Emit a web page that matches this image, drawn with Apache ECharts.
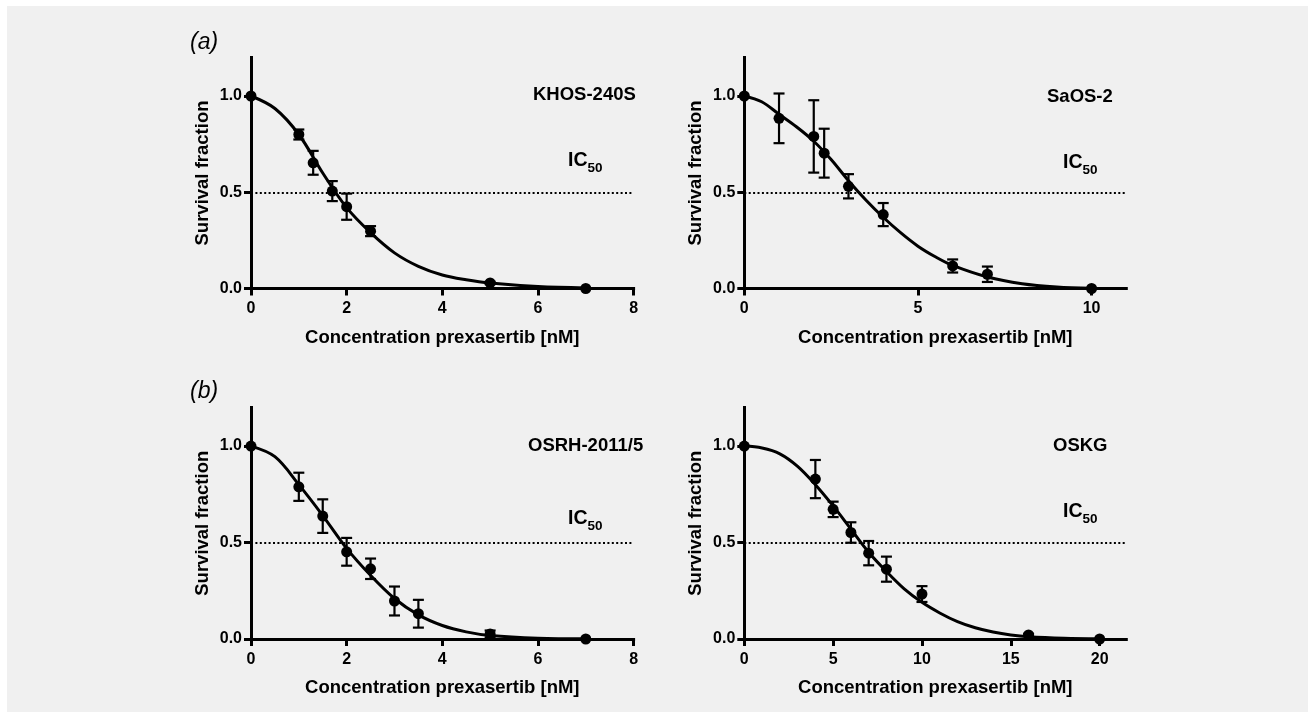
<!DOCTYPE html>
<html><head><meta charset="utf-8">
<script src="https://cdn.jsdelivr.net/npm/echarts@6/dist/echarts.min.js"></script>
<style>
html,body{margin:0;padding:0;background:#fff;}
#bg{position:absolute;left:7px;top:6px;width:1301px;height:706px;background:#f0f0f0;}
#c{position:absolute;left:0;top:0;width:1308px;height:712px;}
</style></head><body><div id="bg"></div><div id="c"></div>
<script>
// ---------- data ----------
const yTicks = [0, 0.5, 1.0];
const ic50Level = 0.5;
const xTitle = 'Concentration prexasertib [nM]';
const yTitle = 'Survival fraction';

// (a) KHOS-240S
const khosX   = [0, 1, 1.3, 1.7, 2, 2.5, 5, 7];
const khosY   = [1.0, 0.80, 0.653, 0.506, 0.425, 0.298, 0.029, 0.0];
const khosErr = [0, 0.026, 0.062, 0.052, 0.068, 0.026, 0.006, 0];
const khosFitX = [0, 0.5, 1, 1.5, 2, 2.5, 3, 3.5, 4, 4.5, 5, 6, 7];
const khosFitY = [1.0, 0.935, 0.80, 0.60, 0.42, 0.29, 0.185, 0.115, 0.07, 0.045, 0.028, 0.01, 0.003];
const khosTicks = [0, 2, 4, 6, 8];

// (a) SaOS-2
const saosX   = [0, 1, 2, 2.3, 3, 4, 6, 7, 10];
const saosY   = [1.0, 0.884, 0.790, 0.703, 0.531, 0.384, 0.117, 0.074, 0.0];
const saosErr = [0, 0.129, 0.188, 0.127, 0.063, 0.06, 0.034, 0.04, 0];
const saosFitX = [0, 0.5, 1, 1.5, 2, 2.5, 3, 3.5, 4, 4.5, 5, 5.5, 6, 7, 8, 9, 10];
const saosFitY = [1.0, 0.97, 0.905, 0.84, 0.765, 0.67, 0.56, 0.46, 0.37, 0.29, 0.22, 0.165, 0.12, 0.06, 0.025, 0.008, 0.001];
const saosTicks = [0, 5, 10];

// (b) OSRH-2011/5
const osrhX   = [0, 1, 1.5, 2, 2.5, 3, 3.5, 5, 7];
const osrhY   = [1.0, 0.789, 0.637, 0.452, 0.364, 0.197, 0.131, 0.026, 0.0];
const osrhErr = [0, 0.073, 0.087, 0.072, 0.053, 0.075, 0.072, 0.018, 0];
const osrhFitX = [0, 0.5, 1, 1.5, 2, 2.5, 3, 3.5, 4, 4.5, 5, 6, 7];
const osrhFitY = [1.0, 0.945, 0.80, 0.64, 0.47, 0.33, 0.21, 0.125, 0.07, 0.037, 0.018, 0.004, 0.001];
const osrhTicks = [0, 2, 4, 6, 8];

// (b) OSKG
const oskgX   = [0, 4, 5, 6, 7, 8, 10, 16, 20];
const oskgY   = [1.0, 0.829, 0.672, 0.552, 0.445, 0.362, 0.233, 0.021, 0.0];
const oskgErr = [0, 0.099, 0.04, 0.053, 0.063, 0.065, 0.041, 0.006, 0];
const oskgFitX = [0, 1, 2, 3, 4, 5, 6, 7, 8, 9, 10, 11, 12, 13, 14, 15, 16, 18, 20];
const oskgFitY = [1.0, 0.99, 0.96, 0.895, 0.80, 0.69, 0.57, 0.45, 0.35, 0.26, 0.19, 0.135, 0.09, 0.058, 0.036, 0.021, 0.012, 0.004, 0.001];
const oskgTicks = [0, 5, 10, 15, 20];

const panelNames = ['KHOS-240S', 'SaOS-2', 'OSRH-2011/5', 'OSKG'];
const panelLetters = ['(a)', '(b)'];

// ---------- build ----------
const FONT = '"Liberation Sans", Arial, Helvetica, sans-serif';
const zip = (a, b, c) => a.map((v, i) => c ? [v, b[i], c[i]] : [v, b[i]]);

const panels = [
  {x: khosX, y: khosY, e: khosErr, fx: khosFitX, fy: khosFitY, ticks: khosTicks, max: 8,
   grid: {left: 251, top: 57.5, width: 382.6, height: 231}},
  {x: saosX, y: saosY, e: saosErr, fx: saosFitX, fy: saosFitY, ticks: saosTicks, max: 11,
   grid: {left: 744.3, top: 57.5, width: 382, height: 231}},
  {x: osrhX, y: osrhY, e: osrhErr, fx: osrhFitX, fy: osrhFitY, ticks: osrhTicks, max: 8,
   grid: {left: 251, top: 407.5, width: 382.6, height: 231.5}},
  {x: oskgX, y: oskgY, e: oskgErr, fx: oskgFitX, fy: oskgFitY, ticks: oskgTicks, max: 21.5,
   grid: {left: 744.3, top: 407.5, width: 382, height: 231.5}}
];

const grids = [], xAxes = [], yAxes = [], series = [];
const axisLine = {show: true, onZero: false, lineStyle: {color: '#000', width: 3, cap: 'square'}};
const labelStyle = {color: '#000', fontWeight: 'bold', fontSize: 16, fontFamily: FONT};
const titleStyle = {color: '#000', fontWeight: 'bold', fontSize: 18.5, fontFamily: FONT};

panels.forEach((p, i) => {
  grids.push(Object.assign({containLabel: false}, p.grid));
  xAxes.push({
    type: 'value', gridIndex: i, min: 0, max: p.max,
    axisLine, splitLine: {show: false},
    axisTick: {show: true, length: 7, customValues: p.ticks, lineStyle: {color: '#000', width: 3}},
    axisLabel: Object.assign({customValues: p.ticks, margin: 12.5}, labelStyle),
    name: xTitle, nameLocation: 'middle', nameGap: 39.5, nameTextStyle: titleStyle
  });
  yAxes.push({
    type: 'value', gridIndex: i, min: 0, max: 1.2,
    axisLine, splitLine: {show: false},
    axisTick: {show: true, length: 7, customValues: yTicks, lineStyle: {color: '#000', width: 3}},
    axisLabel: Object.assign({customValues: yTicks, margin: 9, formatter: v => v.toFixed(1)}, labelStyle),
    name: yTitle, nameLocation: 'middle', nameGap: 39, nameRotate: 90, nameTextStyle: titleStyle
  });
  series.push({
    type: 'line', xAxisIndex: i, yAxisIndex: i, data: zip(p.fx, p.fy),
    smooth: 0.35, showSymbol: false, silent: true, z: 3,
    lineStyle: {color: '#000', width: 3},
    markLine: {silent: true, symbol: ['none', 'none'], label: {show: false},
      lineStyle: {color: '#000', type: [2, 2.4], width: 1.8},
      data: [{yAxis: ic50Level}]}
  });
  series.push({
    type: 'custom', xAxisIndex: i, yAxisIndex: i, data: zip(p.x, p.y, p.e), z: 4,
    encode: {x: 0, y: 1},
    renderItem: (params, api) => {
      const x = api.value(0), y = api.value(1), e = api.value(2);
      if (!e) return null;
      const t = api.coord([x, y + e]), b = api.coord([x, y - e]);
      const hw = 5.5, st = {stroke: '#000', lineWidth: 2.2};
      return {type: 'group', children: [
        {type: 'line', shape: {x1: t[0], y1: t[1], x2: b[0], y2: b[1]}, style: st},
        {type: 'line', shape: {x1: t[0] - hw, y1: t[1], x2: t[0] + hw, y2: t[1]}, style: st},
        {type: 'line', shape: {x1: b[0] - hw, y1: b[1], x2: b[0] + hw, y2: b[1]}, style: st}
      ]};
    }
  });
  series.push({
    type: 'scatter', xAxisIndex: i, yAxisIndex: i, data: zip(p.x, p.y), z: 5,
    symbol: 'circle', symbolSize: 11, itemStyle: {color: '#000', opacity: 1}
  });
});

const txt = (x, y, text, size, weight, style) => ({
  type: 'text', x, y, silent: true,
  style: {text, fill: '#000', fontSize: size, fontWeight: weight, fontStyle: style || 'normal',
          fontFamily: FONT, align: 'left', verticalAlign: 'middle'}
});
const namePos = [[533, 95], [1047, 96.5], [528, 446], [1053, 446]];
const icPos = [[568, 161], [1063, 163], [568, 519], [1063, 512]];
const graphic = [];
panelNames.forEach((n, i) => {
  graphic.push(txt(namePos[i][0], namePos[i][1], n, 18.5, 'bold'));
  graphic.push(txt(icPos[i][0], icPos[i][1], 'IC', 19.5, 'bold'));
  graphic.push(txt(icPos[i][0] + 19.5, icPos[i][1] + 7.5, '50', 13.5, 'bold'));
});
graphic.push(txt(190, 42.5, panelLetters[0], 23, 'normal', 'italic'));
graphic.push(txt(190, 392, panelLetters[1], 23, 'normal', 'italic'));

const chart = echarts.init(document.getElementById('c'), null, {renderer: 'canvas'});
chart.setOption({
  backgroundColor: 'transparent', animation: false,
  grid: grids, xAxis: xAxes, yAxis: yAxes, series, graphic
});
</script></body></html>
